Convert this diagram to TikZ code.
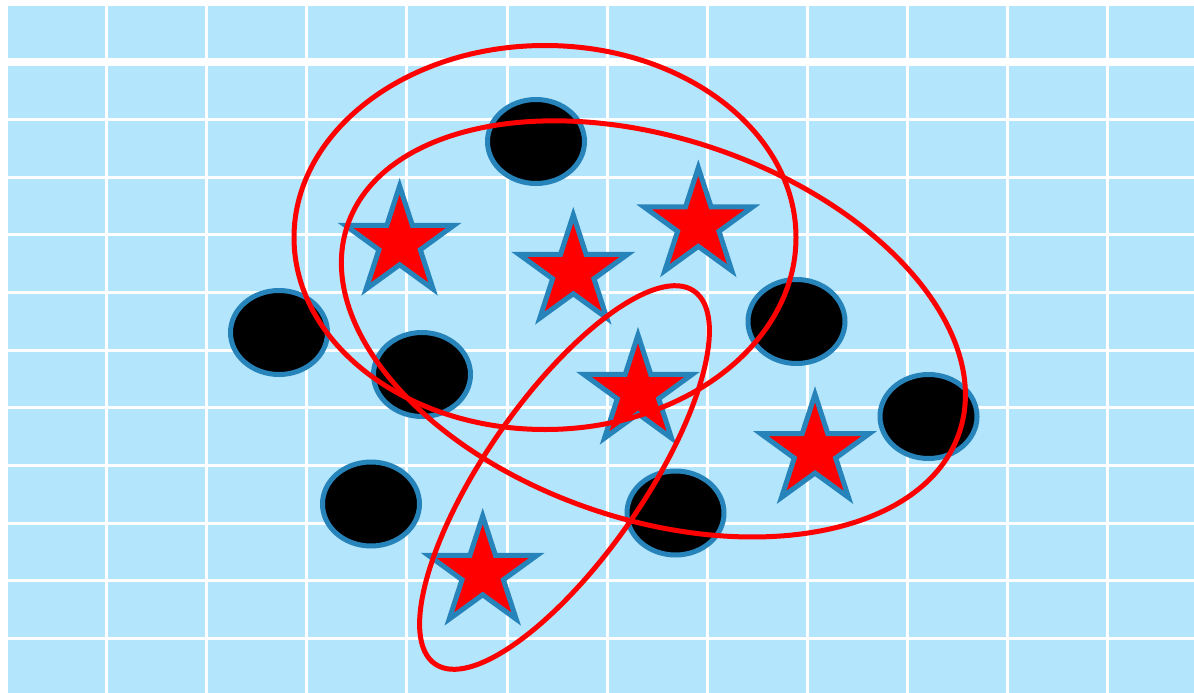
\documentclass[tikz,border=0pt]{standalone}
\usepackage{tikz}
\usetikzlibrary{shapes.geometric}

\definecolor{gridblue}{HTML}{B3E5FC}
\definecolor{rimblue}{HTML}{2784BA}

\begin{document}
\begin{tikzpicture}[
    x=1pt, y=-1pt,
    gridline/.style={white, line width=3pt},
    blob/.style={ellipse, draw=rimblue, fill=black, line width=5pt,
                 minimum width=97pt, minimum height=84pt, inner sep=0pt},
    starmark/.style={star, star points=5, star point ratio=2.618, draw=rimblue,
                 fill=red, line width=5pt, minimum size=114pt, inner sep=0pt},
    groupring/.style={draw=red, line width=5pt}
]
    \useasboundingbox (0,0) rectangle (1194,693);
    \fill[white] (0,0) rectangle (1194,693);
    \fill[gridblue] (8,6) rectangle (1194,693);
    \foreach \i in {0,...,10}
        \draw[gridline] ({106.5+100.13*\i},6) -- ({106.5+100.13*\i},693);
    \foreach \j in {0,...,9}
        \draw[gridline] (8,{119.5+57.67*\j}) -- (1194,{119.5+57.67*\j});
    \draw[white, line width=8pt] (8,62) -- (1194,62);

    % black points
    \node[blob] (b1) at (536,141.5) {};
    \node[blob] (b2) at (279,332.5) {};
    \node[blob] (b3) at (422,374.5) {};
    \node[blob] (b4) at (796.5,321.5) {};
    \node[blob] (b5) at (928.5,416.5) {};
    \node[blob] (b6) at (371,504) {};
    \node[blob] (b7) at (675.5,513) {};

    % red stars
    \node[starmark] (s1) at (399.6,243) {};
    \node[starmark] (s2) at (573.3,272) {};
    \node[starmark] (s3) at (698.3,224.6) {};
    \node[starmark] (s4) at (638,392) {};
    \node[starmark] (s5) at (815,451.3) {};
    \node[starmark] (s6) at (482.7,573) {};

    % groupings
    \draw[groupring] (545,237.5) ellipse [x radius=251pt, y radius=192pt];
    \draw[groupring, rotate around={-18.7:(653.4,328.9)}]
        (653.4,328.9) ellipse [x radius=323pt, y radius=190.5pt];
    \draw[groupring, rotate around={55.2:(564.5,477.5)}]
        (564.5,477.5) ellipse [x radius=227pt, y radius=79pt];
\end{tikzpicture}
\end{document}
